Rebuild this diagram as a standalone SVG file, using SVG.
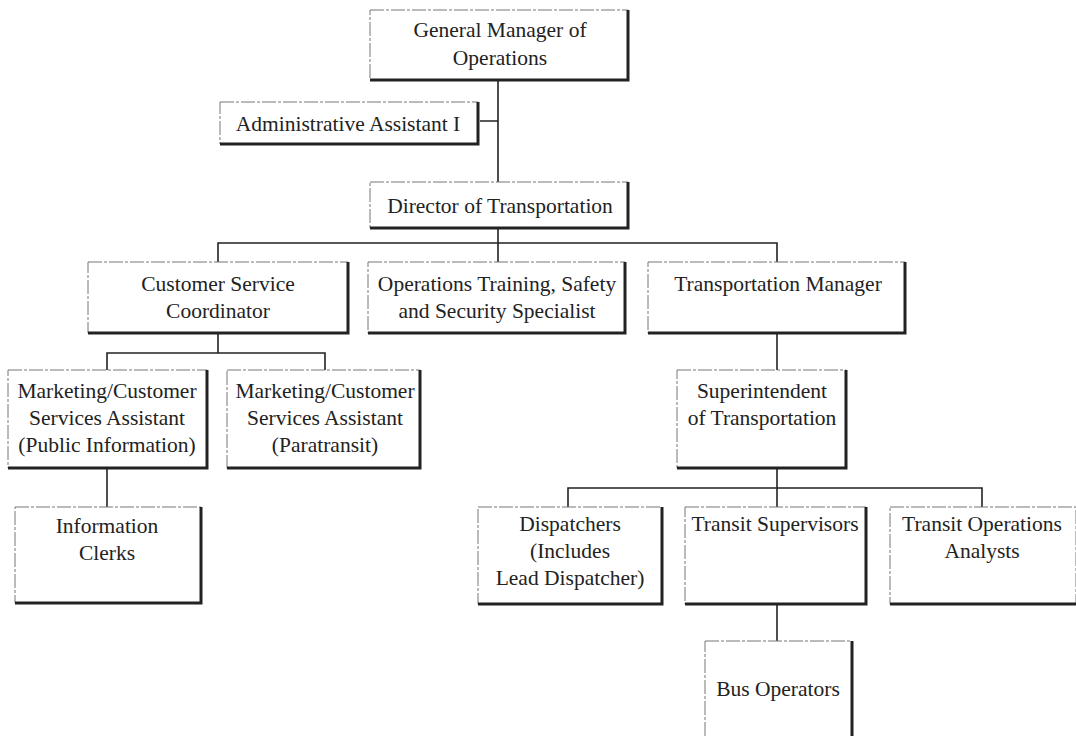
<svg xmlns="http://www.w3.org/2000/svg" width="1076" height="736" viewBox="0 0 1076 736">
<style>
.b{fill:#fff;stroke:#777;stroke-width:1;stroke-dasharray:14 2 3 2}
.s{fill:none;stroke:#222;stroke-width:3}
.c{fill:none;stroke:#222;stroke-width:1.6}
text{font-family:"Liberation Serif","Times New Roman",serif;font-size:21.5px;fill:#222;text-anchor:middle}
</style>
<rect width="1076" height="736" fill="#fff"/>
<g id="connectors">
<path class="c" d="M498 80V182M480 121H498"/>
<path class="c" d="M498 228V243M218 262V243H777V262M498 243V262"/>
<path class="c" d="M218 333V353M107 370V353H325V370"/>
<path class="c" d="M107 468V507"/>
<path class="c" d="M777 333V370"/>
<path class="c" d="M777 468V488M568 507V488H982V507M777 488V507"/>
<path class="c" d="M777 604V641"/>
</g>
<g id="gm"><rect class="b" x="370" y="10" width="258" height="70"/><path class="s" d="M628 10V80H370"/><text x="500" y="37">General Manager of</text><text x="500" y="65">Operations</text></g>
<g id="admin"><rect class="b" x="220" y="102" width="258" height="42"/><path class="s" d="M478 102V144H220"/><text x="348" y="131">Administrative Assistant I</text></g>
<g id="director"><rect class="b" x="370" y="182" width="258" height="46"/><path class="s" d="M628 182V228H370"/><text x="500" y="213">Director of Transportation</text></g>
<g id="csc"><rect class="b" x="88" y="262" width="260" height="71"/><path class="s" d="M348 262V333H88"/><text x="218" y="291">Customer Service</text><text x="218" y="318">Coordinator</text></g>
<g id="ots"><rect class="b" x="368" y="262" width="257" height="71"/><path class="s" d="M625 262V333H368"/><text x="497" y="291">Operations Training, Safety</text><text x="497" y="318">and Security Specialist</text></g>
<g id="tm"><rect class="b" x="648" y="262" width="257" height="71"/><path class="s" d="M905 262V333H648"/><text x="778" y="291">Transportation Manager</text></g>
<g id="mcs1"><rect class="b" x="8" y="370" width="199" height="98"/><path class="s" d="M207 370V468H8"/><text x="107" y="398">Marketing/Customer</text><text x="107" y="425">Services Assistant</text><text x="107" y="452">(Public Information)</text></g>
<g id="mcs2"><rect class="b" x="227" y="370" width="193" height="98"/><path class="s" d="M420 370V468H227"/><text x="325" y="398">Marketing/Customer</text><text x="325" y="425">Services Assistant</text><text x="325" y="452">(Paratransit)</text></g>
<g id="clerks"><rect class="b" x="15" y="507" width="186" height="96"/><path class="s" d="M201 507V603H15"/><text x="107" y="533">Information</text><text x="107" y="560">Clerks</text></g>
<g id="super"><rect class="b" x="677" y="370" width="169" height="98"/><path class="s" d="M846 370V468H677"/><text x="762" y="398">Superintendent</text><text x="762" y="425">of Transportation</text></g>
<g id="disp"><rect class="b" x="478" y="507" width="184" height="97"/><path class="s" d="M662 507V604H478"/><text x="570" y="531">Dispatchers</text><text x="570" y="558">(Includes</text><text x="570" y="585">Lead Dispatcher)</text></g>
<g id="ts"><rect class="b" x="685" y="507" width="181" height="97"/><path class="s" d="M866 507V604H685"/><text x="775" y="531">Transit Supervisors</text></g>
<g id="toa"><rect class="b" x="890" y="507" width="186" height="97"/><path class="s" d="M1076 604H890"/><text x="982" y="531">Transit Operations</text><text x="982" y="558">Analysts</text></g>
<g id="bus"><rect class="b" x="705" y="641" width="147" height="100"/><path class="s" d="M852 641V736"/><text x="778" y="696">Bus Operators</text></g>
</svg>
